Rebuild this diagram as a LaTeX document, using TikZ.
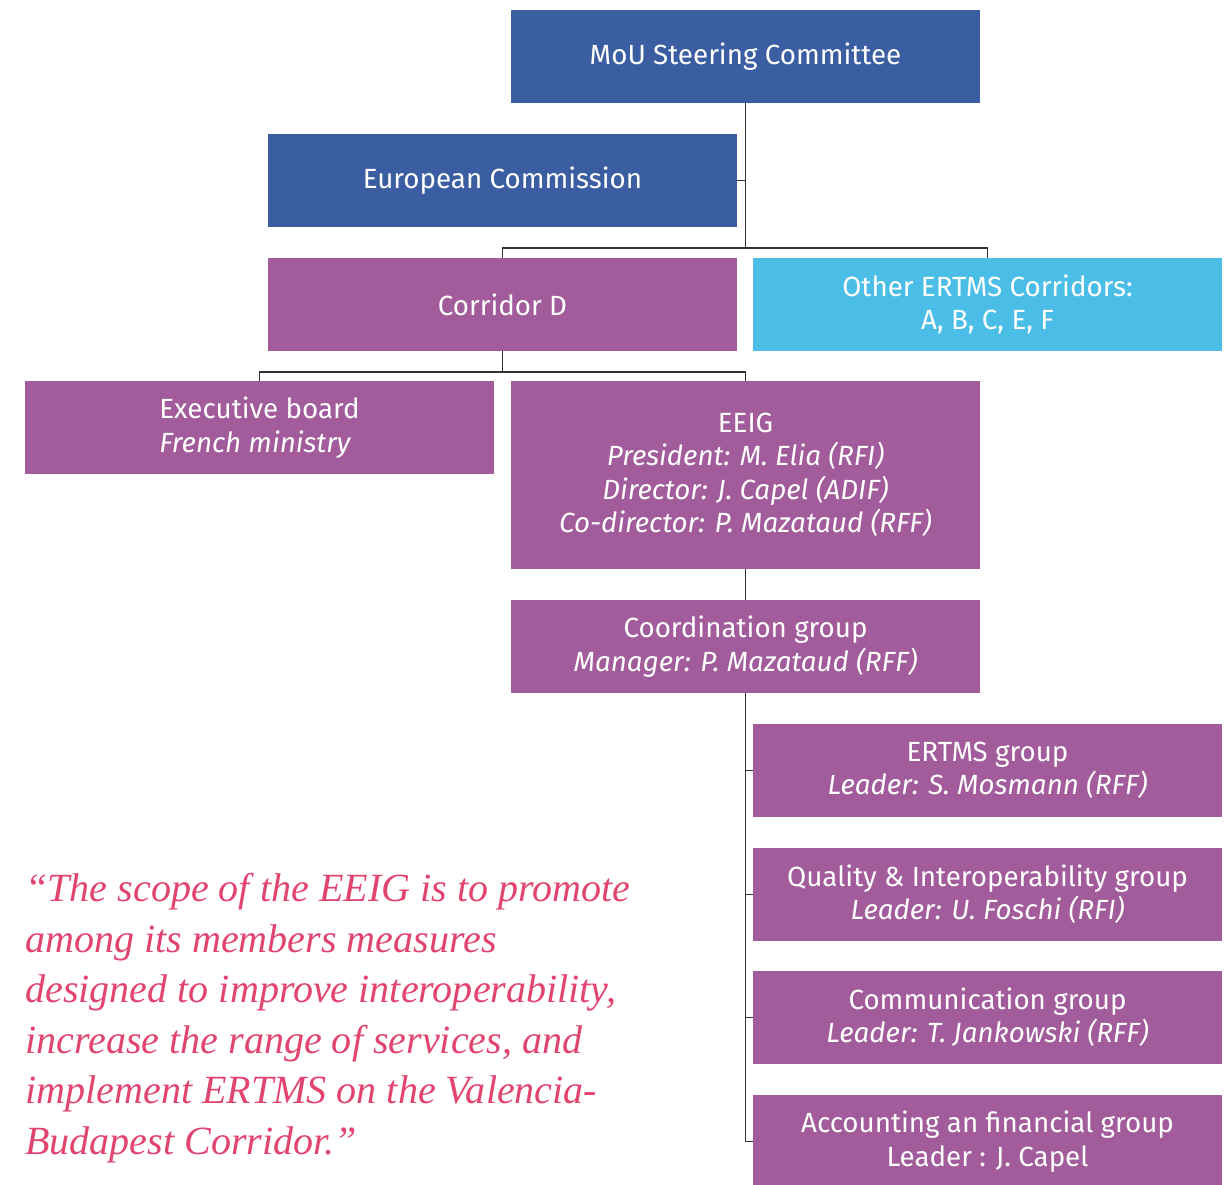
\documentclass[tikz,border=0pt]{standalone}
\usepackage{fontspec}
\setmainfont{Liberation Serif}
\setsansfont{Fira Sans}
\definecolor{boxBlue}{RGB}{59,94,163}
\definecolor{boxPurple}{RGB}{162,92,155}
\definecolor{boxCyan}{RGB}{75,190,232}
\definecolor{quotePink}{RGB}{226,68,112}
\usetikzlibrary{positioning}
\tikzset{
  orgbox/.style={rectangle, inner sep=0pt, minimum width=9.38cm, minimum height=1.86cm,
    text=white, align=center, font=\sffamily\fontsize{15.8}{19}\selectfont},
  bluebox/.style={orgbox, fill=boxBlue},
  purplebox/.style={orgbox, fill=boxPurple},
  cyanbox/.style={orgbox, fill=boxCyan},
  link/.style={line width=0.8pt, draw=black!80}
}
\begin{document}
\begin{tikzpicture}[x=0.02cm, y=-0.02cm]
                \useasboundingbox (0,0) rectangle (1230,1185);
                \node[bluebox] (mou) at (745.5,56.5) {MoU Steering Committee};
                \node[bluebox] (ec) at (502.5,180.5) {European Commission};
                \node[purplebox] (corrD) at (502.5,304.5) {Corridor D};
                \node[cyanbox] (other) at (987.5,304.5) {Other ERTMS Corridors:\\A, B, C, E, F};
                \node[purplebox, align=left] (exec) at (259.5,427.5) {Executive board\\\textit{French ministry}};
                \node[purplebox, minimum height=3.76cm] (eeig) at (745.5,475) {EEIG\\\textit{President: M. Elia (RFI)}\\\textit{Director: J. Capel (ADIF)}\\\textit{Co-director: P. Mazataud (RFF)}};
                \node[purplebox] (coord) at (745.5,646.5) {Coordination group\\\textit{Manager: P. Mazataud (RFF)}};
                \node[purplebox] (ertms) at (987.5,770.5) {ERTMS group\\\textit{Leader: S. Mosmann (RFF)}};
                \node[purplebox] (quality) at (987.5,894.5) {Quality \& Interoperability group\\\textit{Leader: U. Foschi (RFI)}};
                \node[purplebox] (comm) at (987.5,1017.5) {Communication group\\\textit{Leader: T. Jankowski (RFF)}};
                \node[purplebox] (acc) at (987.5,1141.5) {Accounting an financial group\\Leader : J. Capel};

                \coordinate (topjoin) at (mou.south |- 0,248);
                \coordinate (corrjoin) at (corrD.south |- 0,372);
                \draw[link] (mou.south) -- (topjoin);
                \draw[link] (ec.east) -- (ec.east -| mou.south);
                \draw[link] (corrD.north) |- (topjoin) -| (other.north);
                \draw[link] (corrD.south) -- (corrjoin);
                \draw[link] (exec.north) |- (corrjoin) -| (eeig.north);
                \draw[link] (eeig.south) -- (coord.north);
                \draw[link] (coord.south) |- (acc.west);
                \draw[link] (ertms.west) -- (ertms.west -| coord.south);
                \draw[link] (quality.west) -- (quality.west -| coord.south);
                \draw[link] (comm.west) -- (comm.west -| coord.south);

                \node[anchor=base west, inner sep=0pt, align=left, text=quotePink,
                      font=\itshape\fontsize{22.8}{28.7}\selectfont] (quote) at (25,1154)
                      {``The scope of the EEIG is to promote\\among its members measures\\designed to improve interoperability,\\increase the range of services, and\\implement ERTMS on the Valencia-\\Budapest Corridor.''};
            \end{tikzpicture}
\end{document}
